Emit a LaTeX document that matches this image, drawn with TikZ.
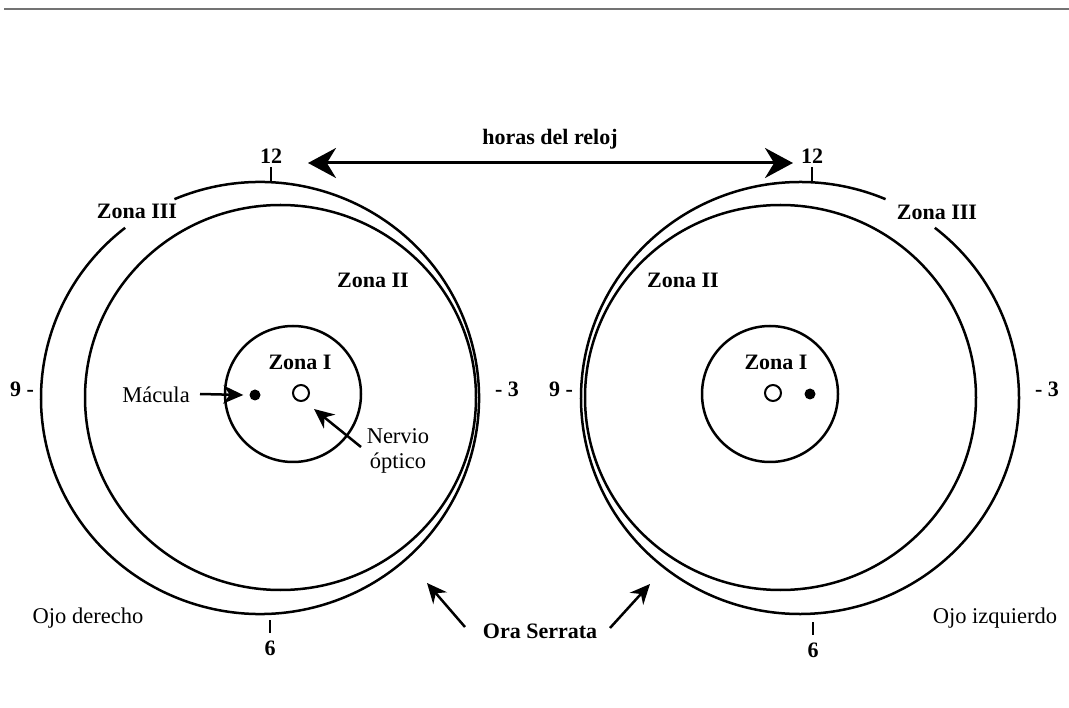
\documentclass[tikz,border=0pt]{standalone}
\usepackage{fontspec}
\setmainfont{Liberation Serif}
\usetikzlibrary{arrows.meta}
\begin{document}
\begin{tikzpicture}[x=1pt,y=-1pt,
  ring/.style={line width=2.5pt},
  tick/.style={line width=2.5pt},
  lab/.style={font=\fontsize{22.5}{25}\selectfont, inner sep=0pt},
  blab/.style={font=\fontsize{22}{25}\selectfont\bfseries, inner sep=0pt},
  ptr/.style={line width=2.5pt,-{Stealth[length=20pt,width=18pt]}},
  dptr/.style={line width=3pt,{Stealth[length=28pt,width=30pt]}-{Stealth[length=28pt,width=30pt]}}]
\useasboundingbox (0,0) rectangle (1069,708);
\fill[white] (0,0) rectangle (1069,708);
\draw[line width=2pt, black!55] (4,9.5) -- (1069,9.5);

% ---------- left eye (Ojo derecho)
\draw[ring] (260,398) ++(-113:219 and 216) arc[start angle=-113, end angle=232, x radius=219, y radius=216];
\draw[ring] (280.5,397.5) ellipse[x radius=195.5, y radius=192.5];
\draw[ring] (293,394) circle[radius=68];
\draw[tick] (271,167) -- (271,182);
\draw[tick] (270,620) -- (270,633);
\node[blab] (l12) at (271,156) {12};
\node[blab] (l6) at (270,648) {6};
\node[blab] (l9) at (22,389) {9 -};
\node[blab] (l3) at (507,389) {- 3};
\node[blab] (lz3) at (137,211) {Zona III};
\node[blab] (lz2) at (373,280) {Zona II};
\node[blab] (lz1) at (300,362) {Zona I};
\node[circle, fill, inner sep=0pt, minimum size=11pt] (ldot) at (255,395) {};
\node[circle, draw, line width=2pt, inner sep=0pt, minimum size=16pt] (lon) at (301,393) {};
\node[lab] (mac) at (156,395) {Mácula};
\coordinate (macs) at (200,394);
\draw[ptr] (macs) -- ([xshift=-6pt]ldot.west);
\node[lab, align=center] (nerv) at (398,451) {Nervio\\óptico};
\coordinate (nervs) at (361,447);
\coordinate (nervt) at (314,409);
\draw[ptr] (nervs) -- (nervt);
\node[lab] (ojod) at (88,618) {Ojo derecho};

% ---------- right eye (Ojo izquierdo)
\draw[ring] (800,398) ++(-52:219 and 216) arc[start angle=-52, end angle=293, x radius=219, y radius=216];
\draw[ring] (780.5,397.5) ellipse[x radius=195.5, y radius=192.5];
\draw[ring] (770,394) circle[radius=68];
\draw[tick] (812,167) -- (812,182);
\draw[tick] (813,622) -- (813,635);
\node[blab] (r12) at (812,156) {12};
\node[blab] (r6) at (813,650) {6};
\node[blab] (r9) at (561,389) {9 -};
\node[blab] (r3) at (1047,389) {- 3};
\node[blab] (rz3) at (937,212) {Zona III};
\node[blab] (rz2) at (683,280) {Zona II};
\node[blab] (rz1) at (776,362) {Zona I};
\node[circle, draw, line width=2pt, inner sep=0pt, minimum size=16pt] (ron) at (773,393) {};
\node[circle, fill, inner sep=0pt, minimum size=11pt] (rdot) at (810,394) {};
\node[lab] (ojoi) at (995,618) {Ojo izquierdo};

% ---------- shared labels
\node[blab] (horas) at (550,139) {horas del reloj};
\coordinate (hl) at (308,163);
\coordinate (hr) at (793,163);
\draw[dptr] (hl) -- (hr);
\node[blab] (ora) at (540,631) {Ora Serrata};
\coordinate (oal) at (465,627);
\coordinate (oatl) at (427,583);
\coordinate (oar) at (610,628);
\coordinate (oatr) at (650,584);
\draw[ptr] (oal) -- (oatl);
\draw[ptr] (oar) -- (oatr);
\end{tikzpicture}
\end{document}
